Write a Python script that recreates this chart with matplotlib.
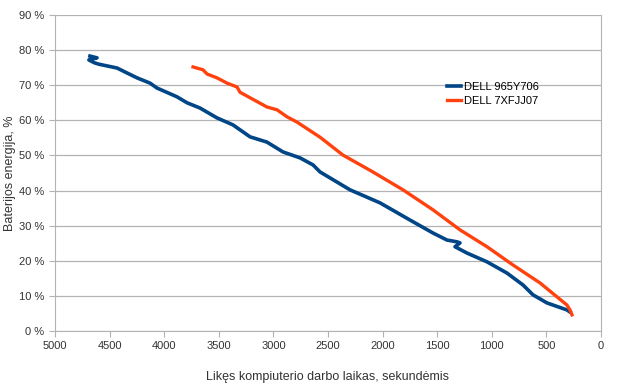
import matplotlib.pyplot as plt
from matplotlib.ticker import FuncFormatter

plt.rcParams['font.family'] = ['Liberation Sans', 'DejaVu Sans']

# DELL 965Y706: remaining time (s) vs battery energy (%)
blue_time = [4680, 4615, 4690, 4640, 4600, 4432, 4341, 4249, 4130, 4066, 3883, 3791,
             3672, 3517, 3370, 3214, 3059, 2912, 2756, 2637, 2573, 2298, 2024, 1749,
             1538, 1410, 1319, 1291, 1337, 1227, 1044, 861, 714, 623, 495, 312, 284]
blue_energy = [78.3, 77.8, 77.2, 76.4, 76.0, 74.9, 73.5, 72.1, 70.6, 69.2, 66.7, 65.0,
               63.5, 60.7, 58.7, 55.3, 53.8, 51.0, 49.3, 47.3, 45.3, 40.2, 36.5, 31.6,
               27.9, 25.9, 25.4, 25.1, 24.0, 22.2, 19.7, 16.5, 13.1, 10.3, 8.0, 6.0, 5.4]

# DELL 7XFJJ07
orange_time = [3736, 3645, 3608, 3517, 3425, 3333, 3306, 3059, 2967, 2875, 2784, 2573,
               2363, 2100, 1813, 1538, 1291, 1044, 806, 559, 312, 284, 266]
orange_energy = [75.2, 74.4, 73.2, 72.1, 70.6, 69.5, 68.0, 63.8, 63.0, 61.0, 59.5, 55.2,
                 50.1, 45.5, 40.2, 34.5, 28.8, 24.0, 18.8, 13.7, 7.4, 6.0, 4.6]

fig = plt.figure(figsize=(6.2, 3.83), dpi=100)
ax = fig.add_axes([55/620, 52/383, 546/620, 316/383])

ax.plot(blue_time, blue_energy, color='#004586', lw=2.6, label='DELL 965Y706')
ax.plot(orange_time, orange_energy, color='#ff420e', lw=2.4, label='DELL 7XFJJ07')

ax.set_xlim(5000, 0)
ax.set_ylim(0, 90)
ax.set_xticks(range(5000, -1, -500))
ax.set_yticks(range(0, 91, 10))
ax.yaxis.set_major_formatter(FuncFormatter(lambda v, p: '%d %%' % v))
ax.grid(axis='y', color='#b3b3b3', lw=0.9)
ax.set_axisbelow(True)
for s in ['left', 'right', 'bottom']:
    ax.spines[s].set_color('#b3b3b3')
ax.spines['top'].set_visible(False)
ax.tick_params(colors='#b3b3b3', labelcolor='#333333', labelsize=8, length=4)

ax.set_xlabel('Likęs kompiuterio darbo laikas, sekundėmis', fontsize=9, color='#333333', labelpad=14)
ax.set_ylabel('Baterijos energija, %', fontsize=9, color='#333333', labelpad=2)

ax.legend(loc='upper left', bbox_to_anchor=(0.7, 0.82), frameon=False, fontsize=8,
          handlelength=1.2, handletextpad=0.3, labelspacing=0.4)

fig.savefig('out.png', dpi=100)
